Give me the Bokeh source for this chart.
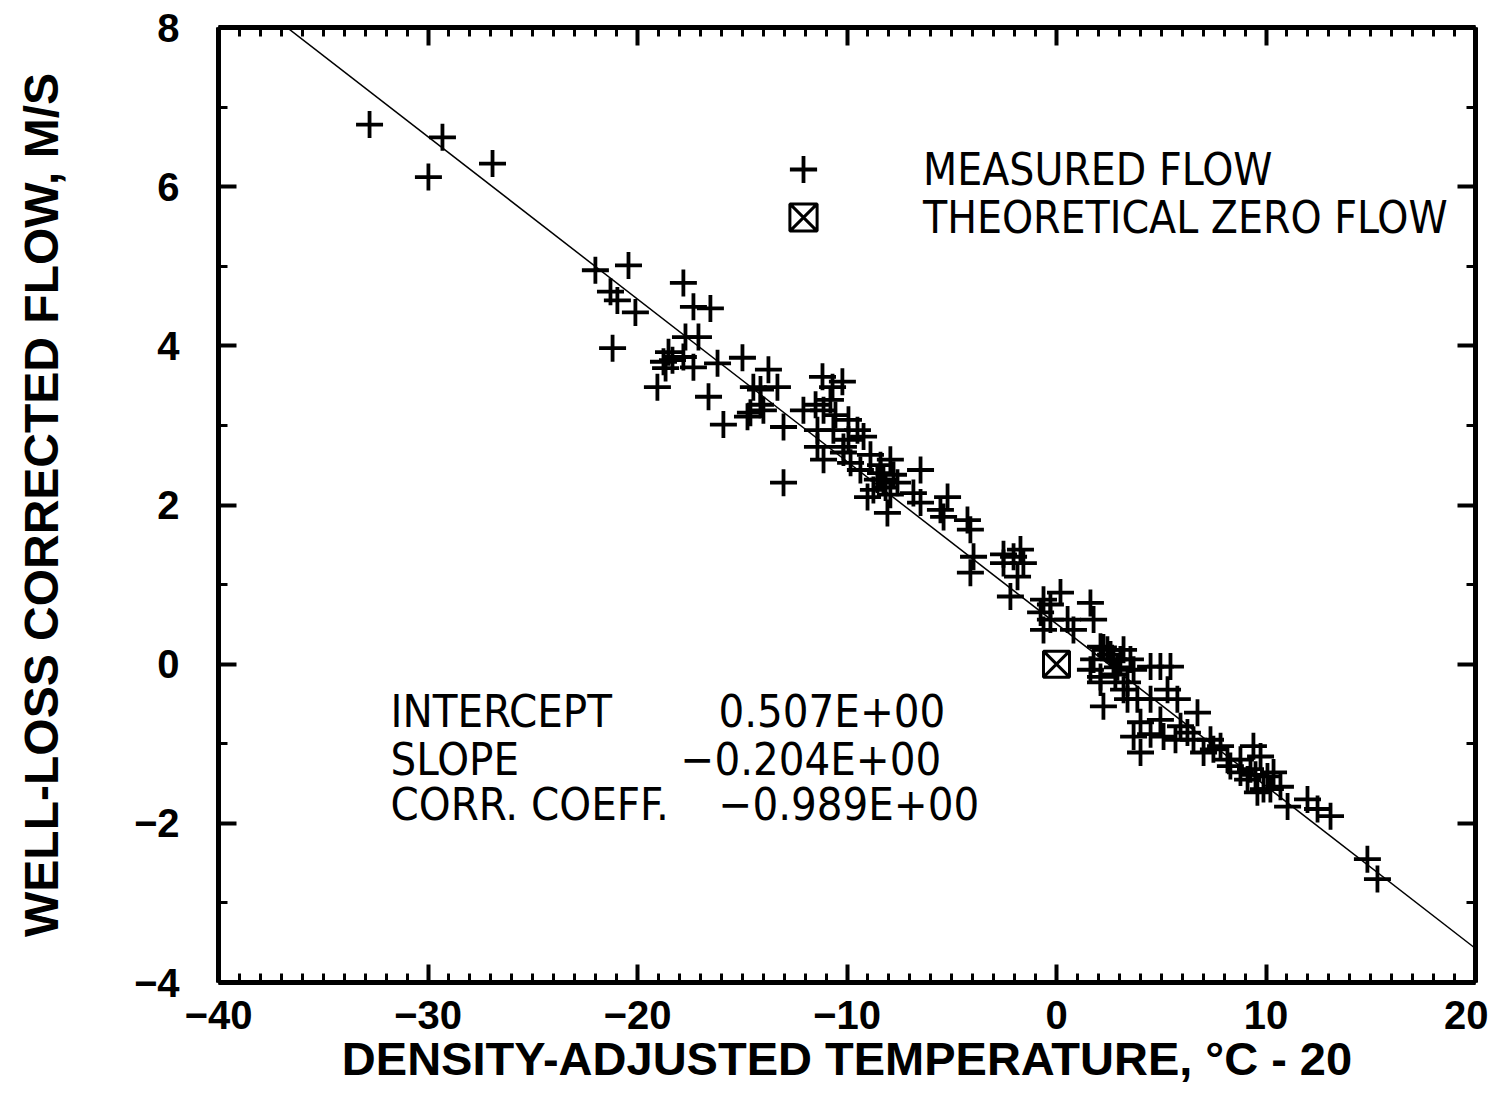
from bokeh.plotting import figure
from bokeh.models import (LinearAxis, SingleIntervalTicker, Range1d, Label, Legend,
                          LegendItem, CustomJSTickFormatter)
from bokeh.embed import file_html
from bokeh.resources import INLINE

# ---- data ----
temp = [-32.79, -29.98, -29.31, -26.92, -22.01, -20.43, -21.29, -20.96, -20.10, -21.19,
        -17.81, -17.33, -16.52, -17.71, -17.09, -18.76, -19.05, -17.81, -17.33, -16.18,
        -14.99, -16.61, -15.90, -14.47, -13.75, -13.32, -14.61, -13.99, -13.03, -12.08,
        -11.17, -10.22, -10.69, -11.41, -10.65, -11.12, -13.03, -10.17, -9.83, -9.21,
        -8.26, -8.07, -9.02, -18.52, -18.33, -18.66, -14.13, -14.75, -11.12, -11.41,
        -9.50, -10.17, -9.36, -8.40, -7.93, -6.49, -8.74, -7.59, -6.83, -5.20,
        -5.54, -4.25, -4.11, -6.49, -5.39, -3.96, -4.11, -2.05, -2.53, -1.58,
        -1.86, -2.20, -0.62, 0.19, -0.76, -0.29, 0.53, 1.62, 1.77, -0.62,
        0.81, 2.43, 1.77, 2.72, 3.53, 4.49, 2.10, 3.39, 3.05, 3.68,
        4.96, 5.44, 2.10, 3.20, 2.24, 3.86, 5.77, 6.73, 4.01, 4.96,
        5.92, 3.68, 4.01, 5.11, 6.54, 7.02, 7.83, 8.16, 9.40, 9.74,
        8.78, 10.07, 6.25, 7.49, 8.30, 9.12, 9.59, 10.36, 10.69, 11.03,
        11.98, 12.46, 13.08, 14.84, 15.32, 5.30, -8.40, -7.78, -8.16, 2.58,
        2.24, 2.91, 10.21, 9.26, -9.93, -10.55, 2.10, 2.81, 3.39, 4.49,
        4.49, 5.68, 7.35, 8.78, 9.50, 9.88, -8.55, -7.93, -8.88, -10.79,
        -11.50, -9.93, -14.13, -2.53, -1.72, -0.29, 3.20, 1.62]
flow = [6.78, 6.12, 6.62, 6.29, 4.95, 5.01, 4.68, 4.57, 4.42, 3.97,
        4.79, 4.49, 4.47, 4.11, 4.11, 3.80, 3.48, 3.86, 3.73, 3.78,
        3.85, 3.36, 3.01, 3.48, 3.70, 3.48, 3.16, 3.19, 2.98, 3.19,
        3.61, 3.55, 3.48, 2.94, 2.94, 2.57, 2.28, 2.73, 2.53, 2.86,
        2.32, 1.90, 2.10, 3.92, 3.82, 3.72, 3.45, 3.11, 3.19, 2.73,
        2.94, 2.66, 2.44, 2.40, 2.57, 2.44, 2.19, 2.28, 2.15, 2.10,
        1.94, 1.81, 1.69, 2.03, 1.85, 1.35, 1.15, 1.35, 1.27, 1.27,
        1.10, 0.85, 0.81, 0.90, 0.65, 0.56, 0.56, 0.77, 0.56, 0.43,
        0.43, 0.18, 0.06, 0.06, 0.06, -0.03, -0.16, -0.23, 0.06, -0.07,
        -0.03, -0.03, -0.23, -0.32, -0.53, -0.44, -0.44, -0.61, -0.73, -0.70,
        -0.78, -0.91, -1.11, -0.91, -0.95, -1.11, -1.03, -1.20, -1.03, -1.16,
        -1.36, -1.41, -0.86, -1.07, -1.28, -1.45, -1.61, -1.36, -1.54, -1.79,
        -1.70, -1.82, -1.91, -2.45, -2.70, -0.32, 2.50, 2.38, 2.22, 0.12,
        0.21, -0.04, -1.57, -1.32, 3.07, 3.13, 0.22, -0.13, -0.44, -0.44,
        -0.88, -0.95, -0.95, -1.20, -1.39, -1.57, 2.32, 2.13, 2.63, 3.32,
        3.26, 2.82, 3.26, 1.38, 1.44, 0.75, 0.18, -0.07]
zero_temp = [0.0]
zero_flow = [0.0]

intercept = 0.507
slope = -0.204
stat_names = ["INTERCEPT", "SLOPE", "CORR. COEFF."]
stat_values = ["0.507E+00", "\u22120.204E+00", "\u22120.989E+00"]

x_ticks = [-40, -30, -20, -10, 0, 10, 20]
x_tick_labels = ["\u221240", "\u221230", "\u221220", "\u221210", "0", "10", "20"]
y_ticks = [-4, -2, 0, 2, 4, 6, 8]
y_tick_labels = ["\u22124", "\u22122", "0", "2", "4", "6", "8"]

legend_labels = ["MEASURED FLOW", "THEORETICAL ZERO FLOW"]
x_title = "DENSITY-ADJUSTED TEMPERATURE, \u00b0C - 20"
y_title = "WELL-LOSS CORRECTED FLOW, M/S"

BOLD = "Liberation Sans"
NARROW = "'Liberation Sans Narrow', 'DejaVu Sans Condensed', sans-serif"

# ---- figure ----
p = figure(width=1488, height=1087, x_range=Range1d(-40, 20), y_range=Range1d(-4, 8),
           output_backend="svg", toolbar_location=None,
           x_axis_location=None, y_axis_location=None,
           min_border_left=218, min_border_right=13, min_border_top=27, min_border_bottom=104)
p.grid.visible = False
p.outline_line_color = None
p.background_fill_color = "white"
p.border_fill_color = "white"


def style_axis(ax):
    ax.axis_line_width = 5
    ax.axis_line_color = "black"
    ax.major_tick_in = 18
    ax.major_tick_out = 0
    ax.minor_tick_in = 9
    ax.minor_tick_out = 0
    ax.major_tick_line_width = 4
    ax.minor_tick_line_width = 3
    ax.major_tick_line_color = "black"
    ax.minor_tick_line_color = "black"


xb = LinearAxis(ticker=SingleIntervalTicker(interval=10, num_minor_ticks=10))
style_axis(xb)
xb.major_label_overrides = dict(zip(x_ticks, x_tick_labels))
xb.major_label_text_font = BOLD
xb.major_label_text_font_style = "bold"
xb.major_label_text_font_size = "40px"
xb.major_label_text_color = "black"
xb.major_label_standoff = 18
xb.axis_label = x_title
xb.axis_label_text_font = BOLD
xb.axis_label_text_font_style = "bold"
xb.axis_label_text_font_size = "47px"
xb.axis_label_text_color = "black"
xb.axis_label_standoff = 0
p.add_layout(xb, "below")

xt = LinearAxis(ticker=SingleIntervalTicker(interval=10, num_minor_ticks=10),
                formatter=CustomJSTickFormatter(code="return ''"))
style_axis(xt)
xt.major_label_text_font_size = "1px"
xt.major_label_standoff = 0
p.add_layout(xt, "above")

yl = LinearAxis(ticker=SingleIntervalTicker(interval=2, num_minor_ticks=2))
style_axis(yl)
yl.major_label_overrides = dict(zip(y_ticks, y_tick_labels))
yl.major_label_text_font = BOLD
yl.major_label_text_font_style = "bold"
yl.major_label_text_font_size = "40px"
yl.major_label_text_color = "black"
yl.major_label_standoff = 39
yl.axis_label = y_title
yl.axis_label_text_font = BOLD
yl.axis_label_text_font_style = "bold"
yl.axis_label_text_font_size = "48px"
yl.axis_label_text_color = "black"
yl.axis_label_standoff = 63
p.add_layout(yl, "left")

yr = LinearAxis(ticker=SingleIntervalTicker(interval=2, num_minor_ticks=2),
                formatter=CustomJSTickFormatter(code="return ''"))
style_axis(yr)
yr.major_label_text_font_size = "1px"
yr.major_label_standoff = 0
p.add_layout(yr, "right")

# ---- regression line ----
x_end = [-40, 20]
p.line(x_end, [intercept + slope * x for x in x_end], line_color="black", line_width=1.5)

# ---- data marks ----
r_meas = p.scatter(temp, flow, marker="cross", size=27, line_width=3.8, line_color="black")
r_zero = p.scatter(zero_temp, zero_flow, marker="square_x", size=26, line_width=3,
                   line_color="black", fill_color="white")

legend_locs = [(551, 779), (551, 731)]
for lab, rend, loc in zip(legend_labels, [r_meas, r_zero], legend_locs):
    lg = Legend(items=[LegendItem(label=lab, renderers=[rend])],
                location=loc, orientation="vertical",
                glyph_width=68, glyph_height=68, padding=0, margin=0,
                border_line_color=None, background_fill_alpha=0,
                label_standoff=86, label_text_font=NARROW, label_text_font_size="44px",
                label_text_color="black")
    p.add_layout(lg)

# ---- statistics text ----
stat_y = [271, 223, 178]
name_x = 172
value_x = [500, 462, 500]
for name, val, yy, vx in zip(stat_names, stat_values, stat_y, value_x):
    p.add_layout(Label(x=name_x, y=yy, x_units="screen", y_units="screen", text=name,
                       text_baseline="middle", text_font=NARROW, text_font_size="45px",
                       text_color="black"))
    p.add_layout(Label(x=vx, y=yy, x_units="screen", y_units="screen", text=val,
                       text_baseline="middle", text_font=NARROW, text_font_size="45px",
                       text_color="black"))

open("out.html", "w").write(file_html(p, INLINE))
